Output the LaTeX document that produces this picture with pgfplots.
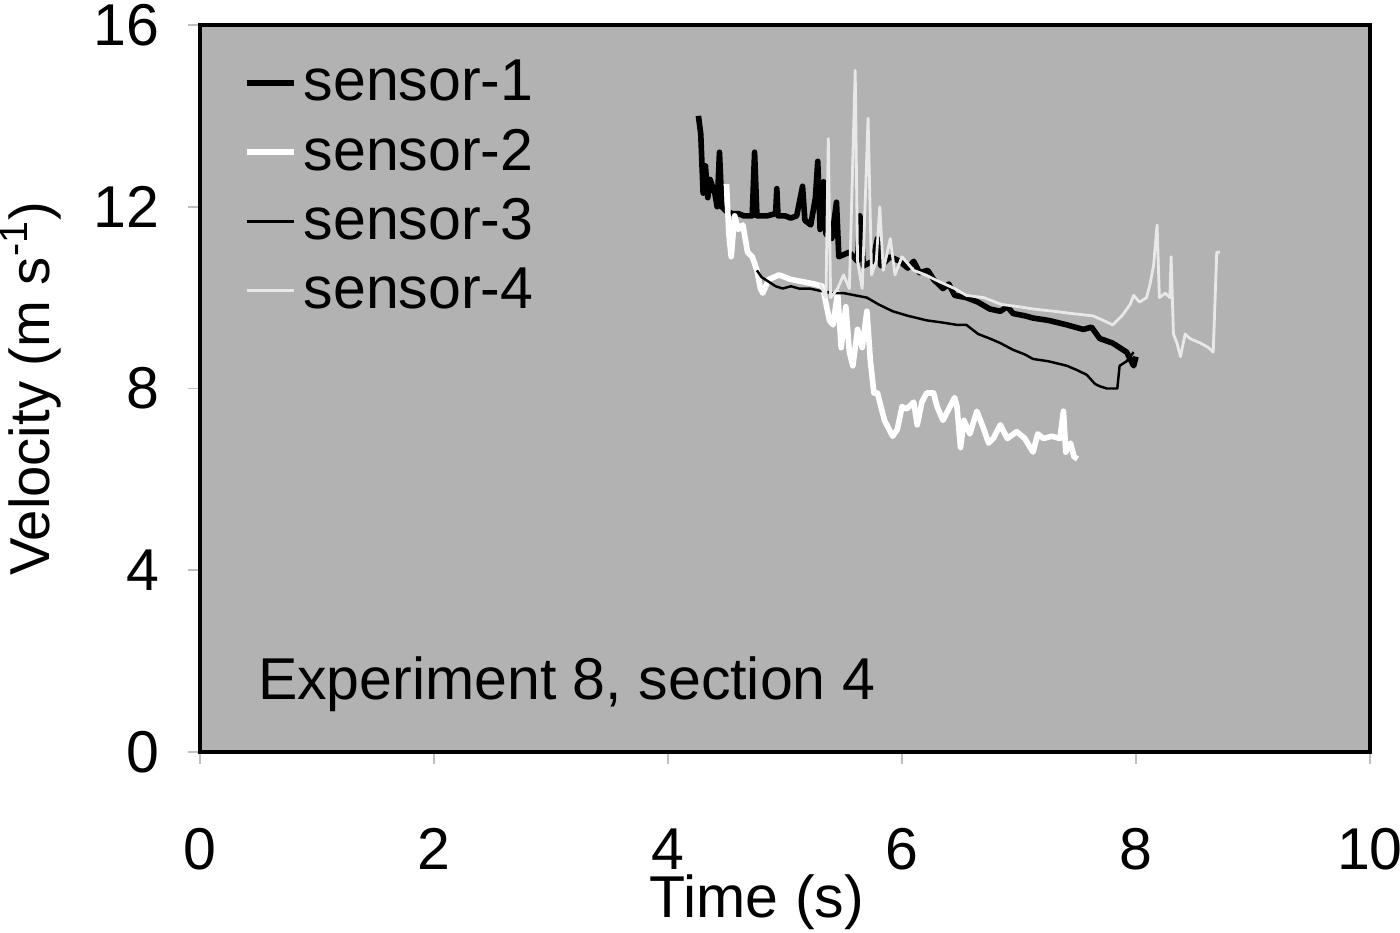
\documentclass[border=0pt]{standalone}
\usepackage{fontspec}
\setmainfont{Liberation Sans}
\usepackage{pgfplots}
\pgfplotsset{compat=1.18}
\definecolor{plotbg}{RGB}{178,178,178}
\definecolor{lightline}{RGB}{232,232,232}

\begin{document}
\begin{tikzpicture}
\begin{axis}[
  scale only axis,
  width=11.7cm, height=7.27cm,
  xmin=0, xmax=10, ymin=0, ymax=16,
  xtick={0,2,4,6,8,10}, ytick={0,4,8,12,16},
  axis background/.style={fill=plotbg},
  axis line style={black, line width=0.9pt},
  tick align=outside, major tick length=0.12cm,
  tick style={gray!50, line width=0.5pt},
  xtick pos=bottom, ytick pos=left,
  font=\fontsize{16.8}{19.5}\selectfont,
  /pgf/number format/assume math mode=true,
  xticklabel style={yshift=-0.52cm},
  yticklabel style={xshift=-0.16cm},
  xlabel={Time (s)}, ylabel={Velocity (m s\textsuperscript{-1})},
  xlabel style={at={(axis description cs:0.476,-0.206)}, anchor=center},
  ylabel style={yshift=0.09cm, font=\fontsize{16}{19}\selectfont},
  legend cell align=left,
  legend style={at={(0.028,0.972)}, anchor=north west, draw=none, fill=none,
    font=\fontsize{16.8}{19.5}\selectfont, row sep=2.5pt},
  legend image code/.code={\draw[#1] (0cm,0cm) -- (0.4cm,0cm); \path (0cm,0cm) -- (0.47cm,0cm);},
]
% sensor-1
\addplot[black, line width=1.6pt, line join=round] coordinates {
(4.26,14.0)(4.28,13.6)(4.30,12.3)(4.32,12.9)(4.34,12.2)(4.36,12.6)(4.40,12.3)
(4.42,12.0)(4.44,13.2)(4.46,12.0)(4.50,11.9)(4.55,11.85)(4.60,11.85)(4.65,11.8)
(4.72,11.8)(4.74,13.2)(4.76,11.8)(4.85,11.8)(4.92,11.85)(4.93,12.4)(4.94,11.8)
(5.00,11.8)(5.05,11.75)(5.10,11.8)(5.15,12.45)(5.17,11.7)(5.22,11.6)(5.26,12.2)
(5.28,13.0)(5.30,11.5)(5.33,12.55)(5.35,11.4)(5.40,11.3)(5.44,12.1)(5.46,10.9)
(5.55,11.0)(5.62,10.8)(5.64,11.8)(5.67,10.7)(5.75,10.8)(5.79,11.3)(5.82,10.7)
(5.90,10.9)(5.98,10.8)(6.05,10.65)(6.10,10.8)(6.15,10.55)(6.22,10.6)(6.27,10.4)
(6.35,10.2)(6.40,10.3)(6.45,10.05)(6.55,10.0)(6.65,9.9)(6.75,9.75)(6.84,9.7)
(6.90,9.8)(6.95,9.65)(7.05,9.6)(7.12,9.55)(7.25,9.5)(7.41,9.4)(7.55,9.3)(7.62,9.35)
(7.69,9.1)(7.80,9.0)(7.92,8.8)(7.98,8.5)(8.0,8.7)
};
% sensor-2
\addplot[white, line width=1.6pt, line join=round] coordinates {
(4.50,12.5)(4.52,11.4)(4.54,10.9)(4.57,11.8)(4.60,11.5)(4.64,11.6)(4.68,11.0)
(4.72,10.9)(4.76,10.6)(4.79,10.2)(4.81,10.1)(4.86,10.4)(4.95,10.5)(5.05,10.4)
(5.15,10.35)(5.25,10.3)(5.32,10.25)(5.38,9.5)(5.41,9.4)(5.45,10.1)(5.48,8.9)
(5.52,9.8)(5.55,8.8)(5.58,8.5)(5.62,9.3)(5.66,8.9)(5.70,9.7)(5.73,8.6)(5.76,7.9)
(5.79,7.9)(5.85,7.3)(5.92,6.95)(5.96,7.1)(6.00,7.6)(6.04,7.55)(6.10,7.7)(6.13,7.2)
(6.17,7.7)(6.21,7.9)(6.27,7.9)(6.30,7.6)(6.35,7.3)(6.41,7.6)(6.45,7.8)(6.47,7.6)
(6.50,6.7)(6.53,7.3)(6.58,7.0)(6.64,7.5)(6.70,7.1)(6.74,6.8)(6.78,6.9)(6.84,7.2)
(6.90,6.9)(6.98,7.05)(7.05,6.9)(7.12,6.6)(7.16,7.0)(7.21,6.9)(7.28,6.95)(7.35,6.9)
(7.38,7.5)(7.40,6.6)(7.44,6.8)(7.47,6.5)(7.50,6.45)
};
% sensor-3
\addplot[black, line width=0.7pt, line join=round] coordinates {
(4.76,10.6)(4.80,10.45)(4.86,10.35)(4.92,10.25)(4.98,10.2)(5.05,10.25)(5.12,10.2)
(5.21,10.2)(5.30,10.15)(5.40,10.1)(5.50,10.1)(5.60,10.05)(5.70,10.0)(5.80,9.85)
(5.92,9.7)(6.05,9.6)(6.21,9.5)(6.35,9.45)(6.47,9.4)(6.55,9.4)(6.65,9.2)(6.75,9.1)
(6.84,9.0)(6.95,8.85)(7.05,8.75)(7.12,8.65)(7.25,8.6)(7.41,8.5)(7.50,8.4)(7.58,8.3)
(7.65,8.1)(7.69,8.05)(7.75,8.0)(7.84,8.0)(7.86,8.5)(7.92,8.6)(7.98,8.8)
};
% sensor-4
\addplot[lightline, line width=0.8pt, line join=round] coordinates {
(5.30,10.3)(5.35,10.0)(5.37,13.5)(5.39,10.0)(5.45,10.2)(5.50,10.5)(5.55,10.2)
(5.60,15.0)(5.62,10.8)(5.66,10.2)(5.71,13.95)(5.74,10.5)(5.78,10.8)(5.81,12.0)
(5.84,10.6)(5.90,11.3)(5.94,10.5)(6.00,10.9)(6.10,10.6)(6.20,10.5)(6.32,10.35)
(6.45,10.2)(6.55,10.05)(6.70,10.0)(6.85,9.85)(7.00,9.8)(7.12,9.75)(7.30,9.7)
(7.45,9.65)(7.63,9.6)(7.72,9.5)(7.80,9.4)(7.88,9.6)(7.95,9.85)(7.98,10.05)
(8.03,9.9)(8.09,10.0)(8.12,10.3)(8.15,10.7)(8.18,11.6)(8.20,10.0)(8.25,10.1)
(8.29,10.0)(8.30,10.9)(8.32,9.2)(8.35,9.0)(8.38,8.7)(8.42,9.2)(8.46,9.1)(8.55,9.0)
(8.62,8.9)(8.66,8.8)(8.69,11.0)(8.72,11.0)
};
\legend{sensor-1, sensor-2, sensor-3, sensor-4}
\node[anchor=west, font=\fontsize{16.8}{19.5}\selectfont] at (axis cs:0.39,1.5) {Experiment 8, section 4};
\end{axis}
\pgfresetboundingbox
\path[use as bounding box] ([shift={(-2.0cm,-1.8cm)}]current axis.south west)
  rectangle ([shift={(0.3cm,0.25cm)}]current axis.north east);
\end{tikzpicture}
\end{document}
